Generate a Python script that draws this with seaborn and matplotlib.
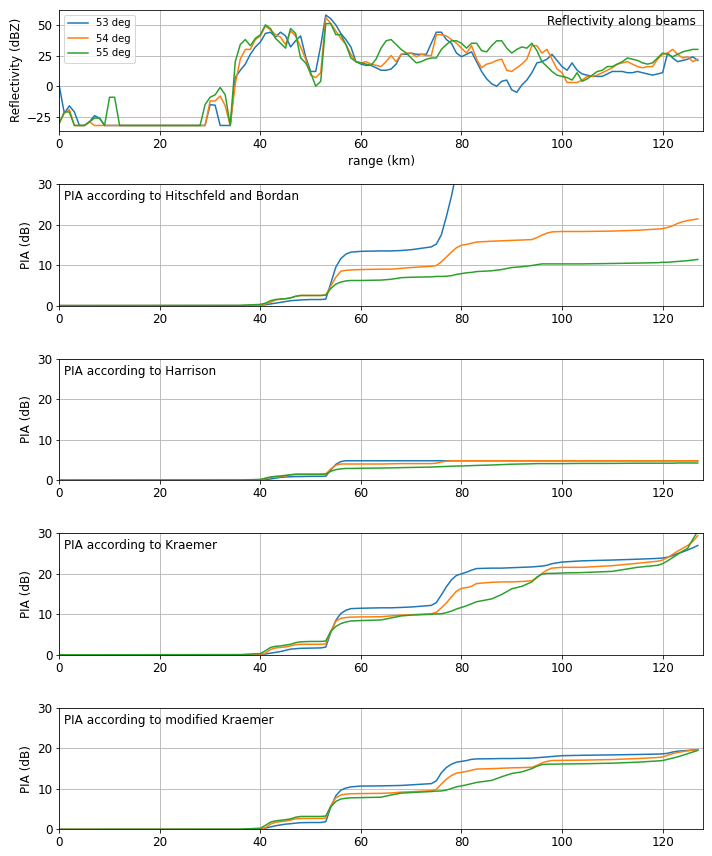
import numpy as np
import pandas as pd
import seaborn as sns
import matplotlib
matplotlib.use("Agg")
import matplotlib.pyplot as plt

nan = np.nan

# reflectivity along three beams, one gate per km
range_km = np.arange(128)

refl53 = [0, -22, -16, -21, -32, -32, -29, -24, -26, -32,
          -32, -32, -32, -32, -32, -32, -32, -32, -32, -32,
          -32, -32, -32, -32, -32, -32, -32, -32, -32, -32,
          -15, -15.5, -32, -32, -32, 7, 13, 18, 26, 32,
          36, 43, 44, 40, 44, 41, 32, 37, 41, 24,
          12, 12, 33, 58, 55, 50, 43, 38, 32, 20,
          18, 17, 17, 15, 13, 13, 14, 18, 26, 26,
          27, 26, 26, 26, 35, 44, 44, 38, 35, 27,
          24, 26, 28, 20, 12, 6, 2, 0, 4, 5,
          -3, -5, 1, 5, 11, 19, 20, 22, 26, 21,
          16, 13, 19, 13, 10, 9, 8, 8, 8, 10,
          12, 12, 12, 11, 11, 12, 11, 10, 9, 10,
          11, 27, 23, 20, 21, 22, 24, 21]
refl54 = [-30, -22, -19, -32, -32, -32, -29, -32, -32, -32,
          -32, -32, -32, -32, -32, -32, -32, -32, -32, -32,
          -32, -32, -32, -32, -32, -32, -32, -32, -32, -32,
          -12, -12, -8, -16, -32, 2, 22, 30, 30, 38,
          41, 49, 46, 42, 40, 34, 45, 41, 32, 22,
          9, 7, 11, 56, 51, 45, 39, 34, 26, 20,
          19, 20, 18, 17, 16, 20, 25, 20, 26, 27,
          27, 24, 26, 25, 25, 42, 42, 41, 38, 35,
          31, 27, 33, 22, 15, 18, 19, 21, 22, 13,
          12, 15, 18, 22, 33, 33, 27, 30, 22, 14,
          11, 3, 3, 3, 5, 8, 8, 9, 11, 13,
          15, 18, 19, 20, 18, 16, 15, 16, 16, 22,
          26, 27, 30, 26, 23, 24, 20, 22]
refl55 = [-30, -21, -21, -32, -32, -32, -29, -26, -26, -32,
          -9, -9, -32, -32, -32, -32, -32, -32, -32, -32,
          -32, -32, -32, -32, -32, -32, -32, -32, -32, -15,
          -9, -7, -1, -7, -32, 20, 34, 38, 33, 39,
          42, 50, 47, 39, 35, 31, 47, 43, 23, 19,
          11, 0, 4, 51, 51, 42, 42, 34, 23, 20,
          19, 18, 17, 22, 31, 37, 38, 34, 30, 27,
          23, 19, 20, 22, 23, 23, 30, 34, 37, 37,
          35, 31, 35, 35, 29, 28, 33, 37, 37, 31,
          27, 30, 32, 31, 35, 29, 20, 16, 12, 9,
          8, 7, 5, 11, 4, 6, 9, 12, 13, 16,
          16, 18, 20, 23, 22, 21, 19, 18, 19, 23,
          27, 26, 24, 26, 28, 29, 30, 30]

beams = ["53 deg", "54 deg", "55 deg"]

# path integrated attenuation, read at these ranges
pia_km = [0, 36, 40, 41, 42, 43, 44, 45, 46, 47, 48,
          50, 52, 53, 54, 55, 56, 57, 58, 60,
          64, 66, 68, 70, 74, 75, 76, 77, 78, 79, 80,
          81, 82, 83, 86, 88, 90, 92, 94, 95, 96, 97, 98, 100,
          104, 110, 115, 119, 120, 121, 122, 123, 124, 125, 126, 127]

hb53 = [0, 0, 0.1, 0.2, 0.4, 0.6, 0.8, 1.0, 1.2, 1.3, 1.4,
        1.5, 1.5, 1.6, 5.5, 9.5, 11.6, 12.7, 13.2, 13.4,
        13.5, 13.5, 13.6, 13.8, 14.5, 15.2, 17.5, 22, 27, 33, 40,
        nan, nan, nan, nan, nan, nan, nan, nan, nan, nan, nan, nan, nan,
        nan, nan, nan, nan, nan, nan, nan, nan, nan, nan, nan, nan]
hb54 = [0, 0, 0.1, 0.4, 0.8, 1.4, 1.6, 1.7, 1.9, 2.3, 2.5,
        2.5, 2.5, 2.6, 4.8, 7.0, 8.5, 8.7, 8.8, 8.9,
        9.0, 9.0, 9.2, 9.4, 9.7, 9.9, 10.8, 12.0, 13.2, 14.3, 14.9,
        15.1, 15.4, 15.7, 15.9, 16.0, 16.1, 16.2, 16.3, 16.8, 17.4, 17.9, 18.2, 18.3,
        18.3, 18.4, 18.6, 18.9, 19.0, 19.3, 19.7, 20.3, 20.7, 21.0, 21.2, 21.4]
hb55 = [0, 0.05, 0.3, 0.6, 1.2, 1.5, 1.6, 1.7, 1.9, 2.3, 2.5,
        2.5, 2.5, 2.6, 4.2, 5.3, 5.8, 6.1, 6.2, 6.2,
        6.3, 6.5, 6.9, 7.0, 7.1, 7.2, 7.2, 7.25, 7.4, 7.7, 7.9,
        8.1, 8.2, 8.4, 8.6, 8.9, 9.4, 9.6, 9.9, 10.1, 10.3, 10.3, 10.3, 10.3,
        10.3, 10.4, 10.5, 10.6, 10.7, 10.7, 10.8, 10.9, 11.0, 11.1, 11.25, 11.4]

ha53 = [0, 0, 0.05, 0.15, 0.3, 0.5, 0.7, 0.8, 0.85, 0.9, 0.9,
        0.95, 0.95, 1.0, 2.5, 3.9, 4.6, 4.8, 4.8, 4.8,
        4.8, 4.8, 4.8, 4.8, 4.8, 4.8, 4.8, 4.8, 4.8, 4.8, 4.8,
        4.8, 4.8, 4.8, 4.8, 4.8, 4.8, 4.8, 4.8, 4.8, 4.8, 4.8, 4.8, 4.8,
        4.8, 4.8, 4.8, 4.8, 4.8, 4.8, 4.8, 4.8, 4.8, 4.8, 4.8, 4.8]
ha54 = [0, 0, 0.1, 0.4, 0.7, 0.8, 0.9, 1.1, 1.3, 1.4, 1.4,
        1.4, 1.4, 1.5, 2.8, 3.7, 4.0, 4.0, 4.0, 4.0,
        4.0, 4.05, 4.1, 4.1, 4.1, 4.2, 4.5, 4.7, 4.8, 4.8, 4.8,
        4.8, 4.8, 4.8, 4.8, 4.8, 4.8, 4.8, 4.8, 4.8, 4.8, 4.8, 4.8, 4.8,
        4.8, 4.8, 4.8, 4.8, 4.8, 4.8, 4.8, 4.8, 4.8, 4.8, 4.8, 4.8]
ha55 = [0, 0.05, 0.2, 0.5, 0.8, 0.95, 1.05, 1.2, 1.35, 1.5, 1.5,
        1.5, 1.5, 1.55, 2.2, 2.6, 2.8, 2.9, 2.9, 2.95,
        3.0, 3.05, 3.1, 3.15, 3.25, 3.3, 3.35, 3.4, 3.45, 3.5, 3.5,
        3.55, 3.6, 3.65, 3.75, 3.85, 3.95, 4.0, 4.05, 4.1, 4.1, 4.1, 4.1, 4.1,
        4.15, 4.15, 4.2, 4.2, 4.2, 4.2, 4.2, 4.25, 4.25, 4.25, 4.25, 4.25]

kr53 = [0, 0, 0.1, 0.2, 0.4, 0.6, 0.8, 1.1, 1.4, 1.5, 1.6,
        1.65, 1.7, 1.9, 5.5, 8.5, 10.2, 11.0, 11.4, 11.5,
        11.6, 11.6, 11.7, 11.8, 12.2, 12.9, 14.8, 16.8, 18.5, 19.6, 20.0,
        20.4, 20.9, 21.3, 21.4, 21.4, 21.5, 21.6, 21.7, 21.8, 21.9, 22.1, 22.5, 22.9,
        23.2, 23.4, 23.6, 23.8, 23.9, 24.1, 24.5, 25.0, 25.4, 25.9, 26.4, 27.0]
kr54 = [0, 0, 0.05, 0.4, 1.3, 1.7, 1.8, 1.95, 2.2, 2.5, 2.6,
        2.6, 2.6, 2.7, 5.8, 8.3, 9.0, 9.2, 9.3, 9.35,
        9.4, 9.6, 9.8, 9.9, 10.15, 10.5, 11.6, 12.8, 14.3, 15.7, 16.4,
        16.6, 16.9, 17.6, 17.9, 18.0, 18.0, 18.1, 18.3, 19.0, 20.1, 20.9, 21.4, 21.6,
        21.6, 22.0, 22.6, 23.1, 23.4, 24.0, 24.8, 25.6, 26.3, 27.0, 28.0, 29.4]
kr55 = [0, 0.05, 0.3, 1.0, 1.8, 2.1, 2.2, 2.4, 2.6, 3.0, 3.2,
        3.3, 3.3, 3.4, 5.8, 7.0, 7.7, 8.1, 8.35, 8.45,
        8.6, 9.1, 9.6, 9.8, 10.0, 10.1, 10.15, 10.4, 10.8, 11.3, 11.7,
        12.1, 12.6, 13.1, 13.8, 14.9, 16.3, 16.9, 18.0, 19.2, 19.9, 20.1, 20.1, 20.2,
        20.3, 20.6, 21.6, 22.1, 22.5, 23.2, 24.0, 24.8, 25.6, 26.3, 28.5, 30.5]

mk53 = [0, 0, 0.1, 0.3, 0.6, 0.9, 1.1, 1.3, 1.4, 1.55, 1.65,
        1.7, 1.7, 1.9, 5.5, 8.3, 9.7, 10.2, 10.5, 10.7,
        10.75, 10.8, 10.85, 11.0, 11.3, 12.0, 14.0, 15.3, 16.1, 16.6, 16.8,
        17.0, 17.3, 17.4, 17.45, 17.5, 17.5, 17.55, 17.6, 17.7, 17.8, 17.9, 18.0, 18.2,
        18.3, 18.4, 18.5, 18.6, 18.65, 18.8, 19.1, 19.3, 19.4, 19.5, 19.6, 19.7]
mk54 = [0, 0, 0.05, 0.4, 1.3, 1.75, 1.9, 2.05, 2.3, 2.6, 2.7,
        2.7, 2.7, 2.8, 5.9, 7.8, 8.5, 8.7, 8.8, 8.85,
        8.9, 9.0, 9.2, 9.3, 9.55, 9.9, 11.2, 12.4, 13.3, 13.9, 14.1,
        14.3, 14.6, 14.9, 15.0, 15.1, 15.2, 15.25, 15.35, 15.8, 16.4, 16.8, 17.0, 17.05,
        17.1, 17.25, 17.5, 17.75, 17.9, 18.3, 18.7, 19.0, 19.2, 19.4, 19.55, 19.7]
mk55 = [0, 0.05, 0.3, 1.0, 1.8, 2.1, 2.25, 2.4, 2.6, 3.0, 3.2,
        3.2, 3.2, 3.3, 5.6, 6.9, 7.5, 7.7, 7.8, 7.85,
        7.95, 8.5, 8.95, 9.1, 9.35, 9.45, 9.5, 9.7, 10.1, 10.5, 10.75,
        11.0, 11.3, 11.6, 12.1, 13.0, 13.8, 14.2, 15.0, 15.6, 16.0, 16.1, 16.1, 16.15,
        16.2, 16.35, 16.6, 16.9, 17.0, 17.3, 17.6, 17.9, 18.3, 18.7, 19.1, 19.5]

methods = [
    ("PIA according to Hitschfeld and Bordan", [hb53, hb54, hb55]),
    ("PIA according to Harrison", [ha53, ha54, ha55]),
    ("PIA according to Kraemer", [kr53, kr54, kr55]),
    ("PIA according to modified Kraemer", [mk53, mk54, mk55]),
]

palette = ["#1f77b4", "#ff7f0e", "#2ca02c"]

plt.rcParams["font.family"] = ["DejaVu Sans"]
plt.rcParams["font.size"] = 12

W, H = 712, 856
fig = plt.figure(figsize=(W / 72, H / 72), dpi=72)

left = 59.3 / W
width = (702.8 - 59.3) / W
bottoms = [131, 305.6, 480.2, 654.8, 829.4]
ax_h = 121.5


def make_ax(i):
    return fig.add_axes([left, 1 - bottoms[i] / H, width, ax_h / H])


def style(ax):
    ax.grid(True, color="#b0b0b0", linewidth=0.8)
    ax.set_axisbelow(True)
    ax.set_xlim(0, 128)
    ax.tick_params(labelsize=12)


# reflectivity panel
df = pd.DataFrame({
    "range": np.tile(range_km, 3),
    "dbz": np.concatenate([refl53, refl54, refl55]),
    "beam": np.repeat(beams, len(range_km)),
})
ax = make_ax(0)
sns.lineplot(data=df, x="range", y="dbz", hue="beam", palette=palette,
             linewidth=1.5, ax=ax)
style(ax)
ax.set_ylim(-36.5, 62.5)
ax.set_yticks([-25, 0, 25, 50])
ax.set_ylabel("Reflectivity (dBZ)", fontsize=12)
ax.set_xlabel("range (km)", fontsize=12)
ax.legend(loc="upper left", fontsize=10)
ax.annotate("Reflectivity along beams", xy=(1, 1), xycoords="axes fraction",
            xytext=(-7, -5), textcoords="offset points",
            ha="right", va="top", fontsize=12)

# PIA panels
for i, (title, series) in enumerate(methods):
    dfp = pd.DataFrame({
        "range": np.tile(pia_km, 3),
        "pia": np.concatenate(series),
        "beam": np.repeat(beams, len(pia_km)),
    })
    ax = make_ax(i + 1)
    sns.lineplot(data=dfp, x="range", y="pia", hue="beam", palette=palette,
                 linewidth=1.5, legend=False, ax=ax)
    style(ax)
    ax.set_ylim(0, 30)
    ax.set_yticks([0, 10, 20, 30])
    ax.set_ylabel("PIA (dB)", fontsize=12)
    ax.set_xlabel("")
    ax.annotate(title, xy=(0, 1), xycoords="axes fraction",
                xytext=(5, -6), textcoords="offset points",
                ha="left", va="top", fontsize=12)

fig.savefig("out.png", dpi=72)
